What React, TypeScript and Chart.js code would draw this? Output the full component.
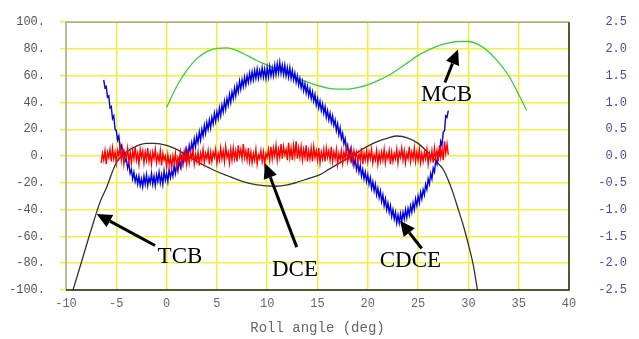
import React, { useEffect, useRef } from 'react';
import { Chart, registerables } from 'chart.js';

Chart.register(...registerables);

// TCB (black, left axis)
const tcbAngle = [-9.3, -8.5, -7.5, -6.6, -6, -5, -4, -3, -2, -1.2, 0, 1, 2, 3, 4.3, 5, 6, 7.6, 9, 10.9, 12, 13, 14, 15.2, 16, 17, 18, 19, 20, 21, 22, 22.9, 24, 25, 26, 27, 27.5, 28, 28.5, 29, 29.5, 30, 30.5, 30.9];
const tcbValue = [-100, -80, -55, -34, -24, -5, 3, 7.5, 9.5, 9.5, 8, 5, 0.5, -4, -9, -11.5, -14.5, -19, -21.5, -22.5, -21.5, -19.5, -17, -14, -10.5, -6, -1.5, 3, 7.5, 11, 13.5, 15, 13.5, 9.5, 2.5, -5.5, -10, -18, -28, -40, -52, -66, -82, -100];

// MCB (green, right axis)
const mcbAngle = [0, 1, 2, 3, 4, 5, 6, 7, 8, 9, 10, 11, 12, 13, 14, 15, 16, 17, 18, 19, 20, 21, 22, 23, 24, 25, 26, 27, 28, 29, 30, 31, 32, 33, 34, 35, 35.8];
const mcbValue = [0.91, 1.3, 1.6, 1.82, 1.95, 2.01, 2.02, 1.97, 1.88, 1.78, 1.7, 1.62, 1.53, 1.45, 1.38, 1.32, 1.27, 1.25, 1.25, 1.28, 1.33, 1.41, 1.5, 1.62, 1.75, 1.88, 1.98, 2.06, 2.11, 2.14, 2.14, 2.08, 1.95, 1.75, 1.5, 1.15, 0.85];

// Measured (noisy) series share one roll-angle grid (one row per degree)
const fineAngle = [
  -6.5, -6.375, -6.25, -6.125, -6, -5.875, -5.75, -5.625,
  -5.5, -5.375, -5.25, -5.125, -5, -4.875, -4.75, -4.625,
  -4.5, -4.375, -4.25, -4.125, -4, -3.875, -3.75, -3.625,
  -3.5, -3.375, -3.25, -3.125, -3, -2.875, -2.75, -2.625,
  -2.5, -2.375, -2.25, -2.125, -2, -1.875, -1.75, -1.625,
  -1.5, -1.375, -1.25, -1.125, -1, -0.875, -0.75, -0.625,
  -0.5, -0.375, -0.25, -0.125, 0, 0.125, 0.25, 0.375,
  0.5, 0.625, 0.75, 0.875, 1, 1.125, 1.25, 1.375,
  1.5, 1.625, 1.75, 1.875, 2, 2.125, 2.25, 2.375,
  2.5, 2.625, 2.75, 2.875, 3, 3.125, 3.25, 3.375,
  3.5, 3.625, 3.75, 3.875, 4, 4.125, 4.25, 4.375,
  4.5, 4.625, 4.75, 4.875, 5, 5.125, 5.25, 5.375,
  5.5, 5.625, 5.75, 5.875, 6, 6.125, 6.25, 6.375,
  6.5, 6.625, 6.75, 6.875, 7, 7.125, 7.25, 7.375,
  7.5, 7.625, 7.75, 7.875, 8, 8.125, 8.25, 8.375,
  8.5, 8.625, 8.75, 8.875, 9, 9.125, 9.25, 9.375,
  9.5, 9.625, 9.75, 9.875, 10, 10.125, 10.25, 10.375,
  10.5, 10.625, 10.75, 10.875, 11, 11.125, 11.25, 11.375,
  11.5, 11.625, 11.75, 11.875, 12, 12.125, 12.25, 12.375,
  12.5, 12.625, 12.75, 12.875, 13, 13.125, 13.25, 13.375,
  13.5, 13.625, 13.75, 13.875, 14, 14.125, 14.25, 14.375,
  14.5, 14.625, 14.75, 14.875, 15, 15.125, 15.25, 15.375,
  15.5, 15.625, 15.75, 15.875, 16, 16.125, 16.25, 16.375,
  16.5, 16.625, 16.75, 16.875, 17, 17.125, 17.25, 17.375,
  17.5, 17.625, 17.75, 17.875, 18, 18.125, 18.25, 18.375,
  18.5, 18.625, 18.75, 18.875, 19, 19.125, 19.25, 19.375,
  19.5, 19.625, 19.75, 19.875, 20, 20.125, 20.25, 20.375,
  20.5, 20.625, 20.75, 20.875, 21, 21.125, 21.25, 21.375,
  21.5, 21.625, 21.75, 21.875, 22, 22.125, 22.25, 22.375,
  22.5, 22.625, 22.75, 22.875, 23, 23.125, 23.25, 23.375,
  23.5, 23.625, 23.75, 23.875, 24, 24.125, 24.25, 24.375,
  24.5, 24.625, 24.75, 24.875, 25, 25.125, 25.25, 25.375,
  25.5, 25.625, 25.75, 25.875, 26, 26.125, 26.25, 26.375,
  26.5, 26.625, 26.75, 26.875, 27, 27.125, 27.25, 27.375,
  27.5, 27.625, 27.75, 27.875, 28,
];

// CDCE (blue, left axis)
const cdceValue = [
  null, null, 57, 51, 52, 44, 45, 36,
  37, 28, 30, 20, 19, 12, 15, 6,
  8, 1, 4, -4, -2, -9, -5, -13,
  -10, -17, -12, -19, -15, -21, -15, -22,
  -17, -23, -15, -21, -14, -22, -16, -20,
  -13, -21, -15, -22, -14, -19, -12, -20,
  -14, -21, -11, -18, -13, -19, -10, -16,
  -11, -15, -7, -13, -6, -11, -3, -8,
  -1, -6, 3, -2, 5, 0, 8, 3,
  10, 5, 13, 7, 15, 10, 18, 12,
  20, 15, 23, 17, 25, 20, 27, 21,
  29, 24, 32, 26, 33, 28, 36, 30,
  38, 33, 41, 35, 43, 38, 46, 40,
  48, 43, 51, 45, 53, 48, 56, 50,
  57, 52, 59, 53, 60, 55, 62, 56,
  63, 57, 64, 58, 65, 58, 64, 59,
  66, 59, 65, 58, 66, 59, 67, 60,
  66, 60, 68, 61, 69, 62, 70, 62,
  68, 61, 68, 60, 66, 59, 66, 58,
  64, 57, 62, 55, 60, 53, 58, 51,
  56, 49, 54, 47, 52, 45, 50, 43,
  48, 41, 46, 38, 43, 36, 41, 34,
  39, 32, 37, 29, 34, 27, 32, 25,
  30, 23, 27, 19, 24, 16, 21, 13,
  17, 9, 13, 4, 8, 0, 5, -3,
  1, -7, -2, -10, -5, -12, -7, -15,
  -10, -17, -12, -19, -14, -21, -16, -24,
  -19, -26, -21, -29, -24, -31, -26, -34,
  -29, -37, -32, -40, -35, -42, -37, -45,
  -40, -47, -42, -50, -44, -50, -43, -49,
  -42, -47, -40, -46, -39, -44, -37, -42,
  -35, -40, -32, -37, -30, -35, -27, -32,
  -25, -29, -21, -25, -17, -21, -13, -17,
  -9, -12, -3, -6, 3, 1, 11, 8,
  18, 19, 30, 29, 34,
];

// DCE (red, left axis)
const dceValue = [
  -5, 2, -3, 4, -6, 3, -1, 5,
  -4, 6, -2, 3, -5, 4, 0, 7,
  -3, 5, -6, 2, -1, 6, -4, 3,
  -5, 4, -2, 7, -3, 2, -6, 5,
  -1, 4, -5, 3, -3, 6, -4, 2,
  -6, 3, -2, 5, -5, 1, -4, 4,
  -7, 2, -3, 0, -8, 1, -6, -1,
  -9, 0, -5, 2, -8, -1, -4, 3,
  -7, 1, -3, 4, -6, 2, -5, 3,
  -2, 4, -6, 1, -4, 3, -7, 2,
  -3, 5, -5, 2, -2, 4, -6, 3,
  -4, 3, -1, 5, -5, 2, -3, 6,
  -2, 4, -4, 7, -1, 3, -5, 5,
  -3, 6, -2, 4, -4, 8, 0, 5,
  -2, 9, -1, 4, -3, 6, -4, 3,
  -5, 2, -3, 5, -6, 1, -2, 4,
  -4, 3, -6, 2, -1, 5, -3, 7,
  -2, 6, 0, 8, -3, 5, -1, 9,
  -2, 7, 1, 5, -3, 10, -1, 6,
  -3, 8, 0, 11, -2, 6, -1, 7,
  -3, 5, -1, 8, -4, 4, -2, 6,
  -4, 7, -1, 4, -3, 6, -5, 3,
  -2, 5, -4, 6, -1, 4, -3, 7,
  -4, 3, -2, 5, -6, 2, -3, 4,
  -5, 3, -2, 6, -4, 2, -3, 5,
  -4, 4, -1, 3, -5, 2, -3, 6,
  -6, 2, -3, 4, -4, 3, -2, 5,
  -5, 1, -3, 4, -6, 2, -4, 3,
  -3, 5, -5, 2, -2, 4, -6, 3,
  -4, 2, -2, 5, -5, 3, -1, 6,
  -3, 4, -5, 2, -2, 7, -4, 3,
  -2, 6, -4, 3, -3, 5, -5, 2,
  -4, 3, -2, 5, -6, 2, -3, 4,
  -5, 6, -2, 4, -4, 8, -1, 5,
  -3, 11, 2, 9, 1,
];

// Callout labels: arrow tip, arrow tail, label centre (roll angle, left-axis value)
const callouts = [
  { label: 'TCB', tip: [-6.95, -43.2], tail: [-1.15, -66.8], text: [1.33, -75.6] },
  { label: 'DCE', tip: [9.78, -5.3], tail: [12.93, -68], text: [12.76, -85.2] },
  { label: 'CDCE', tip: [23.2, -48.3], tail: [25.36, -69], text: [24.24, -78.6] },
  { label: 'MCB', tip: [28.97, 79.6], tail: [27.67, 55], text: [27.82, 45.4] },
];

const toPoints = (xs: number[], ys: (number | null)[]) =>
  xs.map((x, i) => ({ x, y: ys[i] === undefined ? null : ys[i] }));

const framePlugin = {
  id: 'frameAndCallouts',
  afterDraw(chart: any) {
    const { ctx, chartArea: a, scales } = chart;
    const xs = scales.x;
    const ys = scales.y;
    ctx.save();
    ctx.lineWidth = 1.5;
    ctx.strokeStyle = '#a8a8a8';
    ctx.beginPath();
    ctx.moveTo(a.left, a.bottom);
    ctx.lineTo(a.left, a.top);
    ctx.lineTo(a.right, a.top);
    ctx.stroke();
    ctx.strokeStyle = '#222';
    ctx.beginPath();
    ctx.moveTo(a.right, a.top);
    ctx.lineTo(a.right, a.bottom);
    ctx.lineTo(a.left, a.bottom);
    ctx.stroke();
    ctx.fillStyle = '#000';
    ctx.strokeStyle = '#000';
    for (const c of callouts) {
      const tx = xs.getPixelForValue(c.tip[0]);
      const ty = ys.getPixelForValue(c.tip[1]);
      const sx = xs.getPixelForValue(c.tail[0]);
      const sy = ys.getPixelForValue(c.tail[1]);
      const ang = Math.atan2(ty - sy, tx - sx);
      const headLen = 15;
      const headW = 7;
      const bx = tx - headLen * Math.cos(ang);
      const by = ty - headLen * Math.sin(ang);
      ctx.lineWidth = 3;
      ctx.beginPath();
      ctx.moveTo(sx, sy);
      ctx.lineTo(bx, by);
      ctx.stroke();
      ctx.beginPath();
      ctx.moveTo(tx, ty);
      ctx.lineTo(bx + headW * Math.sin(ang), by - headW * Math.cos(ang));
      ctx.lineTo(bx - headW * Math.sin(ang), by + headW * Math.cos(ang));
      ctx.closePath();
      ctx.fill();
      ctx.font = '23px "Liberation Serif"';
      ctx.textAlign = 'center';
      ctx.textBaseline = 'middle';
      ctx.fillText(c.label, xs.getPixelForValue(c.text[0]), ys.getPixelForValue(c.text[1]));
    }
    ctx.restore();
  },
};

export default function App() {
  const ref = useRef<HTMLCanvasElement>(null);
  useEffect(() => {
    document.body.style.margin = '0';
    const canvas = ref.current!;
    const gridColor = '#f0f040';
    const tickFont = { family: '"Liberation Mono", "DejaVu Sans Mono", monospace', size: 12 };
    const chart = new Chart(canvas, {
      type: 'line',
      data: {
        datasets: [
          {
            label: 'DCE',
            data: toPoints(fineAngle, dceValue),
            borderColor: '#ff0000',
            borderWidth: 1.4,
            pointRadius: 0,
            tension: 0,
            yAxisID: 'y',
          },
          {
            label: 'CDCE',
            data: toPoints(fineAngle, cdceValue),
            borderColor: '#0000e6',
            borderWidth: 1.4,
            pointRadius: 0,
            tension: 0,
            yAxisID: 'y',
          },
          {
            label: 'MCB',
            data: toPoints(mcbAngle, mcbValue),
            borderColor: '#3ccc3c',
            borderWidth: 1.3,
            pointRadius: 0,
            cubicInterpolationMode: 'monotone',
            yAxisID: 'y1',
          },
          {
            label: 'TCB',
            data: toPoints(tcbAngle, tcbValue),
            borderColor: '#333333',
            borderWidth: 1.3,
            pointRadius: 0,
            cubicInterpolationMode: 'monotone',
            yAxisID: 'y',
          },
        ],
      },
      options: {
        responsive: false,
        animation: false,
        devicePixelRatio: 1,
        layout: { padding: { top: 19, left: 0, right: 12, bottom: 0 } },
        plugins: { legend: { display: false }, tooltip: { enabled: false } },
        scales: {
          x: {
            type: 'linear',
            min: -10,
            max: 40,
            ticks: { stepSize: 5, color: '#666', font: tickFont, padding: 7 },
            grid: { color: gridColor, lineWidth: 1.5, drawTicks: false },
            border: { display: false },
            title: {
              display: true,
              text: 'Roll angle (deg)',
              color: '#666',
              font: { family: '"Liberation Mono", "DejaVu Sans Mono", monospace', size: 14 },
              padding: { top: 4, bottom: 2 },
            },
            afterFit: (s: any) => { s.height = 49; },
          },
          y: {
            type: 'linear',
            position: 'left',
            min: -100,
            max: 100,
            ticks: {
              stepSize: 20,
              color: '#555',
              font: tickFont,
              padding: 15,
              callback: (v: any) => `${v}.`,
            },
            grid: { color: gridColor, lineWidth: 1.5, drawTicks: true, tickLength: 6 },
            border: { display: false },
            afterFit: (s: any) => { s.width = 66; },
          },
          y1: {
            type: 'linear',
            position: 'right',
            min: -2.5,
            max: 2.5,
            ticks: {
              stepSize: 0.5,
              color: '#4a4aa0',
              font: tickFont,
              crossAlign: 'far',
              callback: (v: any) => Number(v).toFixed(1),
            },
            grid: { display: false },
            border: { display: false },
            afterFit: (s: any) => { s.width = 58; },
          },
        },
      },
      plugins: [framePlugin],
    } as any);
    return () => chart.destroy();
  }, []);
  return (
    <div style={{ width: 639, height: 339 }}>
      <canvas ref={ref} width={639} height={339} />
    </div>
  );
}
